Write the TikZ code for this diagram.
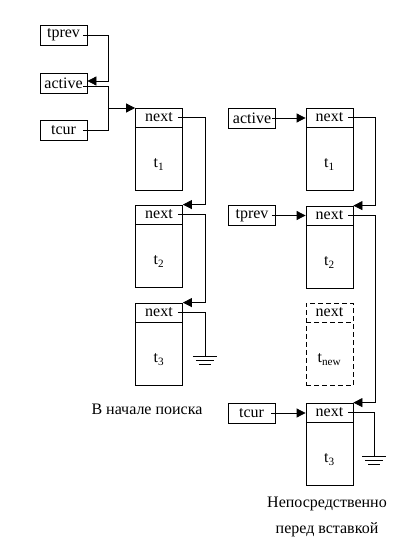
\documentclass[tikz,border=0pt]{standalone}
\usepackage{fontspec}
\setmainfont{Liberation Serif}
\usetikzlibrary{arrows.meta, positioning}

\begin{document}
\begin{tikzpicture}[x=1pt, y=-1pt, line width=0.8pt, font=\fontsize{16}{18}\selectfont]
        \tikzset{
            ptrbox/.style={draw, shape = rectangle, minimum width=47pt, minimum height=20pt, inner sep=1pt},
            nextbox/.style={draw, shape = rectangle, minimum width=47pt, minimum height=19pt, inner sep=1pt},
            databox/.style={draw, shape = rectangle, minimum width=47pt, minimum height=63pt, inner sep=1pt, text height=19pt, text depth=2pt},
            newbox/.style={dash pattern=on 5pt off 3pt},
            ptr/.style={-{Triangle[length=9pt, width=9pt]}},
            ground/.pic={\draw (-12,0) -- (12,0) (-9,4) -- (9,4) (-6,8) -- (6,8);}
        }
        \useasboundingbox (0,0) rectangle (408,546);
        % before the search
        \node[ptrbox] (tprev) at (63.5,35) {tprev};
        \node[ptrbox] (active) at (63.5,83) {active};
        \node[ptrbox] (tcur) at (63.5,130.5) {tcur};
        \node[nextbox] (n1) at (159,117.5) {next};
        \node[databox, below=0pt of n1] (d1) {t\textsubscript{1}};
        \node[nextbox] (n2) at (159,214.5) {next};
        \node[databox, below=0pt of n2] (d2) {t\textsubscript{2}};
        \node[nextbox] (n3) at (159,312.5) {next};
        \node[databox, below=0pt of n3] (d3) {t\textsubscript{3}};
        \coordinate (join) at (108,108);
        \draw[ptr] ([xshift=-4pt]tprev.east) -- ++(25,0) |- ([yshift=2pt]active.east);
        \draw ([xshift=-4pt, yshift=-3pt]active.east) -| (join);
        \draw ([xshift=-4pt]tcur.east) -| (join);
        \draw[ptr] (join) -- (join -| n1.west);
        \draw[ptr] ([xshift=-5pt]n1.east) -- ++(27,0) |- (n2.north east);
        \draw[ptr] ([xshift=-5pt]n2.east) -- ++(27,0) |- (n3.north east);
        \draw ([xshift=-5pt]n3.east) -- ++(27,0) -- ++(0,44) pic {ground};
        \node (cap1) at (147,409) {В начале поиска};
        % just before the insertion
        \node[ptrbox] (active2) at (252,118) {active};
        \node[ptrbox] (tprev2) at (252,215.5) {tprev};
        \node[ptrbox] (tcur2) at (251.5,413) {tcur};
        \node[nextbox] (m1) at (329.5,117.5) {next};
        \node[databox, below=0pt of m1] (e1) {t\textsubscript{1}};
        \node[nextbox] (m2) at (329.5,215.5) {next};
        \node[databox, below=0pt of m2] (e2) {t\textsubscript{2}};
        \node[nextbox, newbox] (mnew) at (329.5,312.5) {next};
        \node[databox, newbox, below=0pt of mnew] (enew) {t\textsubscript{new}};
        \node[nextbox] (m3) at (329.5,412.5) {next};
        \node[databox, below=0pt of m3] (e3) {t\textsubscript{3}};
        \draw[ptr] ([xshift=-4pt]active2.east) -- (active2.east -| m1.west);
        \draw[ptr] ([xshift=-4pt]tprev2.east) -- (tprev2.east -| m2.west);
        \draw[ptr] ([xshift=-4pt]tcur2.east) -- (tcur2.east -| m3.west);
        \draw[ptr] ([xshift=-5pt]m1.east) -- ++(27,0) |- (m2.north east);
        \draw[ptr] ([xshift=-5pt]m2.east) -- ++(27,0) |- (m3.north east);
        \draw ([xshift=-5pt]m3.east) -- ++(26,0) -- ++(0,44) pic {ground};
        \node[align=center, font=\fontsize{16}{26}\selectfont] (cap2) at (327,517) {Непосредственно\\перед вставкой};
    \end{tikzpicture}
\end{document}
